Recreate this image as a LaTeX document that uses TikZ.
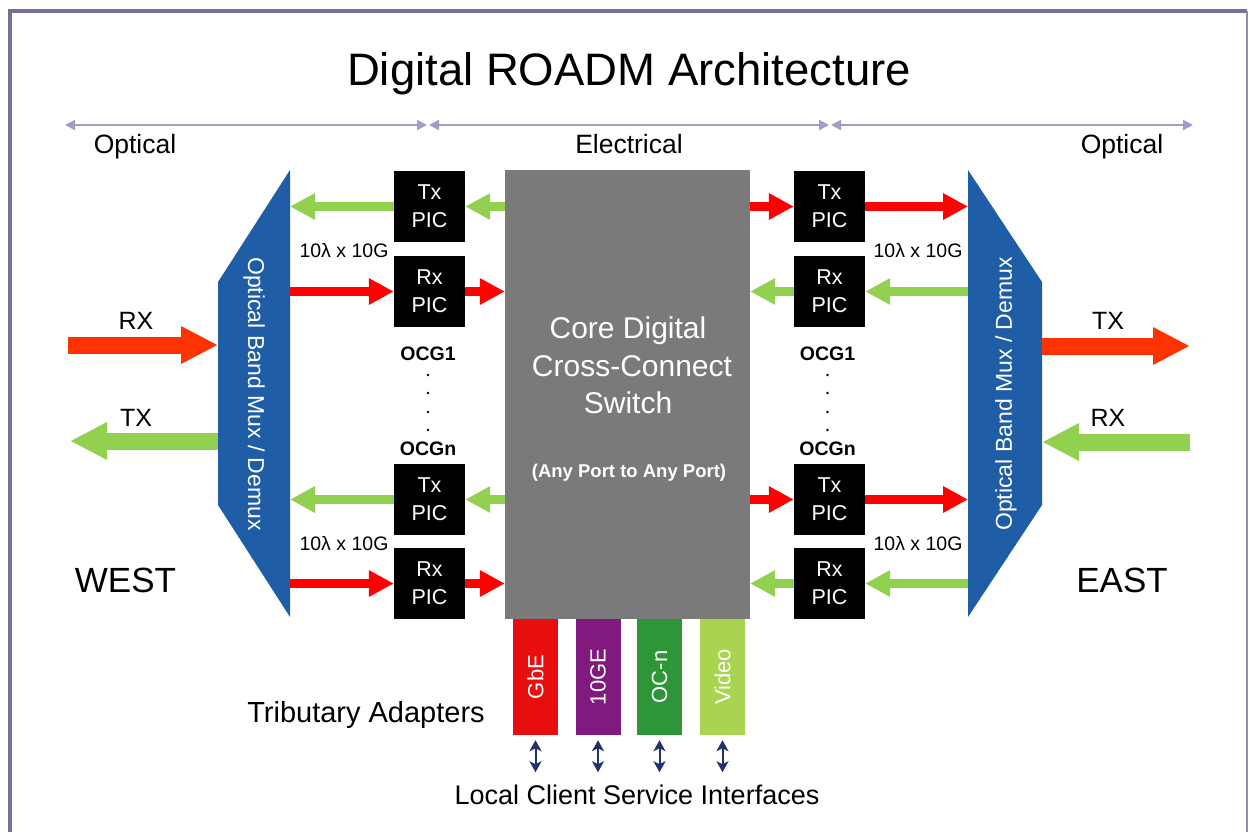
\documentclass[tikz,border=0pt]{standalone}
\usepackage{fontspec}
\usepackage{graphicx}
\setmainfont{Liberation Sans}
\usetikzlibrary{arrows.meta}
\definecolor{framec}{RGB}{117,112,154}
\definecolor{dimc}{RGB}{160,156,201}
\definecolor{muxc}{RGB}{31,94,166}
\definecolor{corec}{RGB}{122,122,122}
\definecolor{grc}{RGB}{146,208,80}
\definecolor{rdc}{RGB}{255,0,0}
\definecolor{bigrdc}{RGB}{255,51,0}
\definecolor{gbec}{RGB}{232,14,14}
\definecolor{tgec}{RGB}{128,26,126}
\definecolor{ocnc}{RGB}{46,150,54}
\definecolor{vidc}{RGB}{169,212,79}
\definecolor{navyc}{RGB}{31,50,110}
\newcommand{\fsz}[1]{\fontsize{#1}{#1}\selectfont}
\tikzset{
  lbl/.style={inner sep=0pt, anchor=base},
  picbox/.style={fill=black, minimum width=71pt, minimum height=71pt, inner sep=0pt, text=white, align=center, font=\fontsize{21.5}{28}\selectfont},
  corebox/.style={fill=corec, minimum width=245pt, minimum height=449pt, inner sep=0pt},
  adapter/.style={minimum width=45pt, minimum height=116pt, inner sep=0pt, text=white, font=\fsz{22}},
  garrow/.style={draw=grc, line width=9pt, -{Triangle[length=25pt,width=25pt]}},
  rarrow/.style={draw=rdc, line width=9pt, -{Triangle[length=25pt,width=25pt]}},
  biggarrow/.style={draw=grc, line width=17pt, -{Triangle[length=37pt,width=35pt]}},
  bigrarrow/.style={draw=bigrdc, line width=17pt, -{Triangle[length=37pt,width=35pt]}},
  dimline/.style={draw=dimc, line width=2pt, {Triangle[length=10pt,width=10pt]}-{Triangle[length=10pt,width=10pt]}},
  dbl/.style={draw=navyc, line width=2pt, {Stealth[length=11pt,width=12pt,inset=3pt]}-{Stealth[length=11pt,width=12pt,inset=3pt]}},
  muxtext/.style={text=white, inner sep=0pt, font=\fsz{23}},
}
\begin{document}
\begin{tikzpicture}[x=1pt,y=-1pt]
\useasboundingbox (0,0) rectangle (1249,831);
% frame
\draw[framec, line width=4pt] (10,835) -- (10,11) -- (1247,11);
\draw[framec!80, line width=1.5pt] (1247,11) -- (1247,835);
% title
\node[lbl, font=\fsz{45.5}] (title) at (629,85) {Digital ROADM Architecture};
% domain lines
\coordinate (d0) at (65,125);
\coordinate (d1) at (427,125);
\coordinate (d2) at (429,125);
\coordinate (d3) at (829,125);
\coordinate (d4) at (831,125);
\coordinate (d5) at (1193,125);
\draw[dimline] (d0) -- (d1);
\draw[dimline] (d2) -- (d3);
\draw[dimline] (d4) -- (d5);
\node[lbl, font=\fsz{26.5}] (optL) at (135,153) {Optical};
\node[lbl, font=\fsz{26.5}] (elec) at (629,153) {Electrical};
\node[lbl, font=\fsz{26.5}] (optR) at (1122,153) {Optical};
% muxes
\fill[muxc] (290,170) -- (290,617) -- (218,505) -- (218,282) -- cycle;
\fill[muxc] (968,170) -- (968,617) -- (1042,505) -- (1042,282) -- cycle;
\coordinate (muxLr) at (290,0);
\coordinate (muxLl) at (218,0);
\coordinate (muxRl) at (968,0);
\coordinate (muxRr) at (1042,0);
\node[muxtext, rotate=-90] (muxLt) at (254,394) {Optical Band Mux / Demux};
\node[muxtext, rotate=90] (muxRt) at (1006,394) {Optical Band Mux / Demux};
% core
\node[corebox] (core) at (627.5,394.5) {};
\node[lbl, text=white, font=\fsz{30}] (c1) at (628,338) {Core Digital};
\node[lbl, text=white, font=\fsz{30}] (c2) at (632,376) {Cross-Connect};
\node[lbl, text=white, font=\fsz{30}] (c3) at (628,413) {Switch};
\node[lbl, text=white, font=\bfseries\fsz{18.5}] (c4) at (629,477) {(Any Port to Any Port)};
% PICs
\node[picbox] (txL1) at (429.5,206.5) {Tx\\PIC};
\node[picbox] (rxL1) at (429.5,291.5) {Rx\\PIC};
\node[picbox] (txLn) at (429.5,499.5) {Tx\\PIC};
\node[picbox] (rxLn) at (429.5,583.5) {Rx\\PIC};
\node[picbox] (txR1) at (829.5,206.5) {Tx\\PIC};
\node[picbox] (rxR1) at (829.5,291.5) {Rx\\PIC};
\node[picbox] (txRn) at (829.5,499.5) {Tx\\PIC};
\node[picbox] (rxRn) at (829.5,583.5) {Rx\\PIC};
% inner arrows west
\draw[garrow] (txL1.west) -- (txL1.west -| muxLr);
\draw[garrow] (txL1.east -| core.west) -- (txL1.east);
\draw[rarrow] (rxL1.west -| muxLr) -- (rxL1.west);
\draw[rarrow] (rxL1.east) -- (rxL1.east -| core.west);
\draw[garrow] (txLn.west) -- (txLn.west -| muxLr);
\draw[garrow] (txLn.east -| core.west) -- (txLn.east);
\draw[rarrow] (rxLn.west -| muxLr) -- (rxLn.west);
\draw[rarrow] (rxLn.east) -- (rxLn.east -| core.west);
% inner arrows east
\draw[rarrow] (txR1.west -| core.east) -- (txR1.west);
\draw[rarrow] (txR1.east) -- (txR1.east -| muxRl);
\draw[garrow] (rxR1.east -| muxRl) -- (rxR1.east);
\draw[garrow] (rxR1.west) -- (rxR1.west -| core.east);
\draw[rarrow] (txRn.west -| core.east) -- (txRn.west);
\draw[rarrow] (txRn.east) -- (txRn.east -| muxRl);
\draw[garrow] (rxRn.east -| muxRl) -- (rxRn.east);
\draw[garrow] (rxRn.west) -- (rxRn.west -| core.east);
% labels
\node[lbl, font=\fsz{19.5}] (wlL1) at (344,257) {10λ x 10G};
\node[lbl, font=\fsz{19.5}] (wlLn) at (344,550) {10λ x 10G};
\node[lbl, font=\fsz{19.5}] (wlR1) at (918,257) {10λ x 10G};
\node[lbl, font=\fsz{19.5}] (wlRn) at (918,550) {10λ x 10G};
\node[lbl, font=\bfseries\fsz{19.5}] (ocgL1) at (428,360) {OCG1};
\node[lbl, font=\bfseries\fsz{19.5}] (ocgLn) at (428,455) {OCGn};
\node[lbl, font=\bfseries\fsz{19.5}] (ocgR1) at (827.5,360) {OCG1};
\node[lbl, font=\bfseries\fsz{19.5}] (ocgRn) at (827.5,455) {OCGn};
\foreach \yy in {375,393,412,430}{
  \fill (428,\yy) circle (1.3pt);
  \fill (827.5,\yy) circle (1.3pt);
}
% outer arrows
\coordinate (rxinL) at (68,345);
\coordinate (txoutL) at (70,441);
\coordinate (txoutR) at (1190,346);
\coordinate (rxinR) at (1190,442);
\draw[bigrarrow] (rxinL) -- (rxinL -| muxLl);
\draw[biggarrow] (txoutL -| muxLl) -- (txoutL);
\draw[bigrarrow] (txoutR -| muxRr) -- (txoutR);
\draw[biggarrow] (rxinR) -- (rxinR -| muxRr);
\node[lbl, font=\fsz{25}] (rxL) at (136,329) {RX};
\node[lbl, font=\fsz{25}] (txL) at (136,426) {TX};
\node[lbl, font=\fsz{25}] (txR) at (1108,329) {TX};
\node[lbl, font=\fsz{25}] (rxR) at (1108,426) {RX};
\node[lbl, font=\fsz{35}] (west) at (125.5,592) {WEST};
\node[lbl, font=\fsz{35}] (east) at (1122,592) {EAST};
% adapters
\node[adapter, fill=gbec] (gbe) at (535.5,677) {\rotatebox{90}{GbE}};
\node[adapter, fill=tgec] (tge) at (598,677) {\rotatebox{90}{10GE}};
\node[adapter, fill=ocnc] (ocn) at (659.5,677) {\rotatebox{90}{OC-n}};
\node[adapter, fill=vidc] (vid) at (722.5,677) {\rotatebox{90}{Video}};
\node[lbl, font=\fsz{29}] (trib) at (366,722) {Tributary Adapters};
\node[lbl, font=\fsz{27}] (lcsi) at (637,804) {Local Client Service Interfaces};
\foreach \n in {gbe,tge,ocn,vid}{
  \draw[dbl, shorten <=5pt, shorten >=12pt] (\n.south) -- (\n.south |- lcsi.north);
}
\end{tikzpicture}
\end{document}
